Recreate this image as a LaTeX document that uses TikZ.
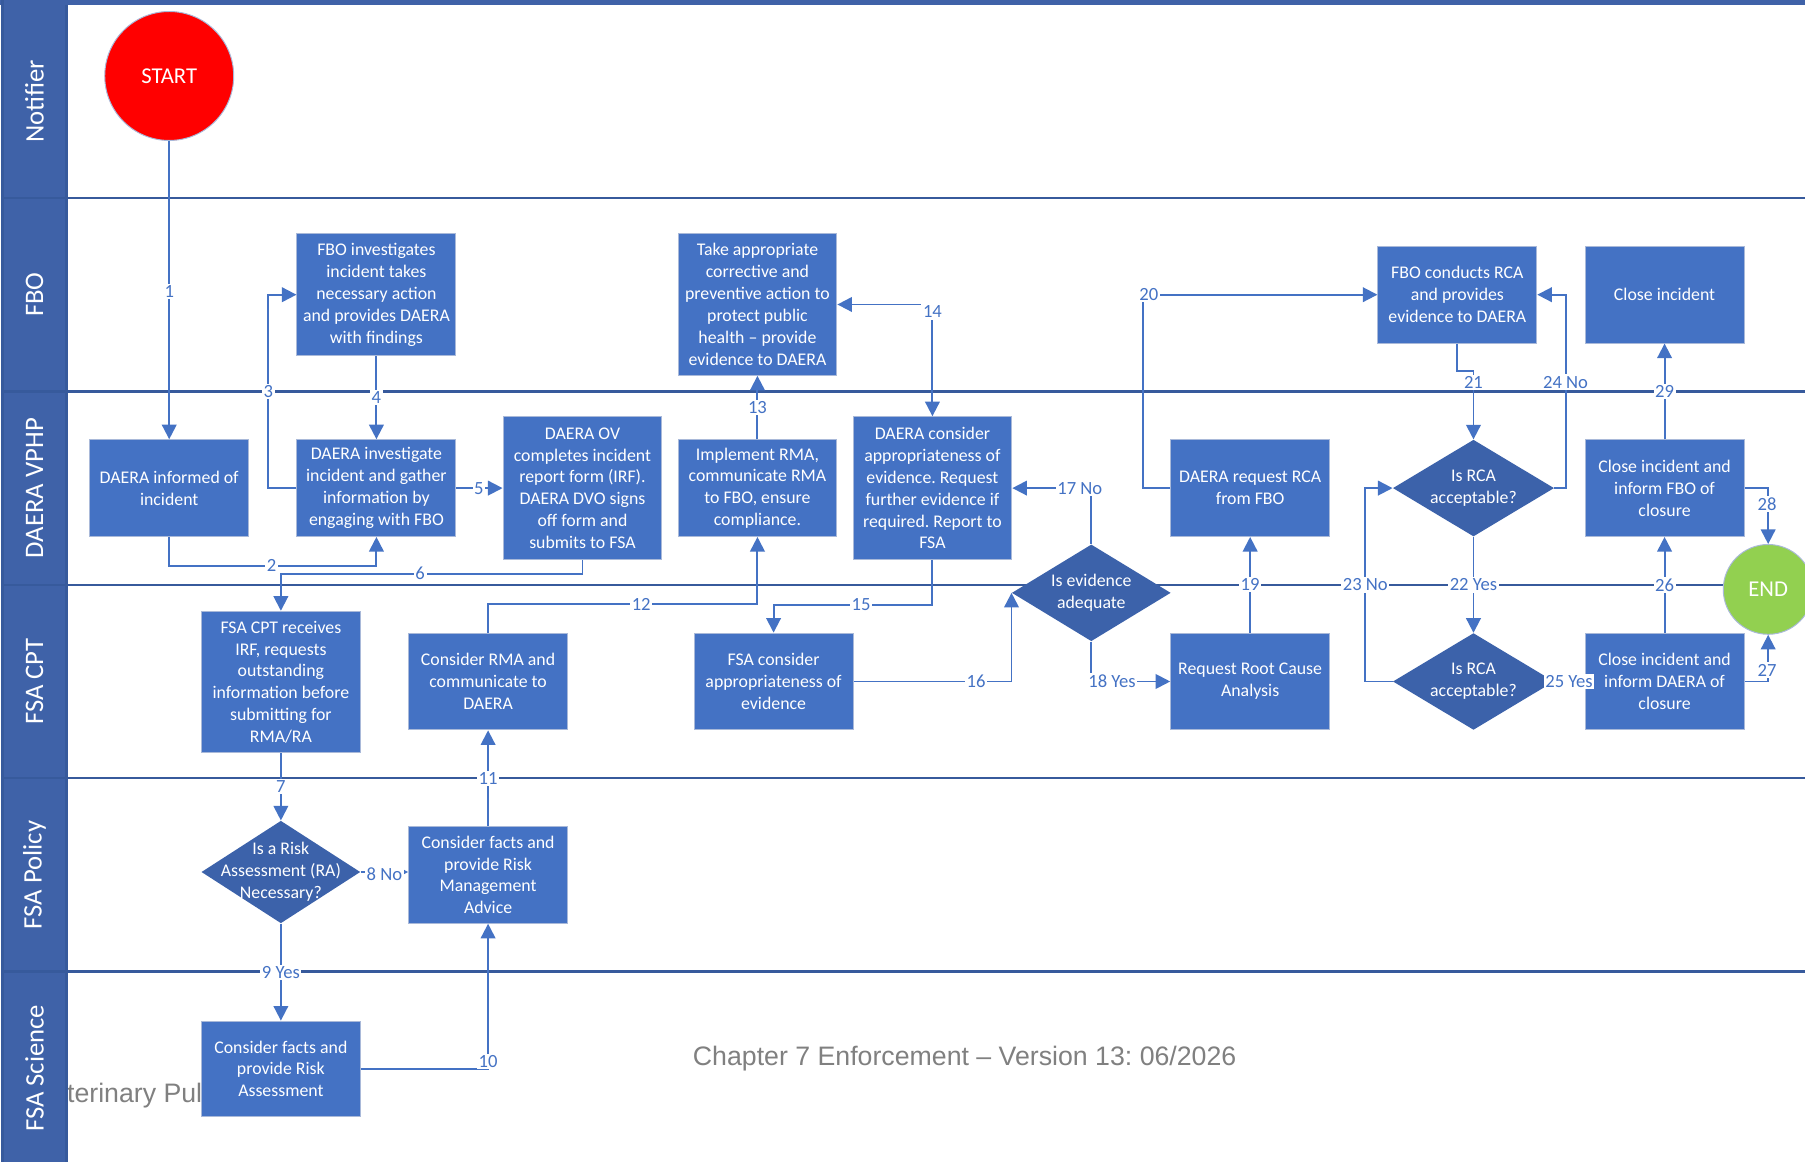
\documentclass[tikz,border=0pt]{standalone}
\usepackage{fontspec}
\setmainfont{Carlito}
\newfontfamily\footf{Liberation Sans}
\usetikzlibrary{arrows.meta,shapes.geometric}
\frenchspacing
\definecolor{boxblue}{HTML}{4472C4}
\definecolor{diablue}{HTML}{3C62AA}
\definecolor{lanecol}{HTML}{3F62A8}
\definecolor{laneline}{HTML}{375A9C}
\definecolor{boxedge}{HTML}{A9B9D9}
\definecolor{footgray}{HTML}{808080}
\definecolor{startred}{HTML}{FF0000}
\definecolor{endgreen}{HTML}{92D050}
\newcommand\boxfnt{\fontsize{11}{13.5}\selectfont}
\tikzset{
  procbox/.style={rectangle, draw=boxedge, line width=0.6pt, fill=boxblue, text=white,
    inner sep=0pt, align=center, font=\boxfnt, minimum width=3.45cm, minimum height=2.1cm},
  decbox/.style={diamond, draw=none, fill=diablue, inner sep=0pt, minimum width=3.5cm, minimum height=2.1cm},
  dectext/.style={text=white, align=center, font=\boxfnt, inner sep=0pt},
  conn/.style={draw=boxblue, line width=1.2pt, -{Triangle[length=9pt,width=9pt]}},
  lab/.style={fill=white, text=boxblue, inner sep=1pt, font=\fontsize{11.5}{13}\selectfont},
  lanelab/.style={rotate=90, text=white, font=\fontsize{16.5}{18}\selectfont, inner sep=0pt},
  laneline/.style={draw=laneline, line width=1.6pt},
}
\begin{document}
\begin{tikzpicture}[x=0.025cm, y=-0.025cm]
\useasboundingbox (0,0) rectangle (1568,1009);
\clip (0,0) rectangle (1568,1009);
\fill[white] (0,0) rectangle (1568,1009);

% footer texts
\node[anchor=west, text=footgray, font=\footf\fontsize{16.5}{18}\selectfont, inner sep=0pt] (vph) at (58,952) {terinary Pul};
\node[text=footgray, font=\footf\fontsize{16.5}{18}\selectfont\frenchspacing, inner sep=0pt] (foot) at (838,920) {Chapter 7 Enforcement – Version 13: 06/2026};

% lanes
\fill[lanecol] (2,0) rectangle (58,1009);
\fill[lanecol] (0,0) rectangle (1568,4);
\foreach \yy in {172,340,508,676,844} { \draw[laneline] (2,\yy) -- (1568,\yy); }
\draw[laneline] (2,0) -- (2,1009);
\draw[laneline] (58,4) -- (58,1009);
\node[lanelab] (ln1) at (30,88) {Notifier};
\node[lanelab] (ln2) at (30,256) {FBO};
\node[lanelab] (ln3) at (30,424) {DAERA VPHP};
\node[lanelab] (ln4) at (30,592) {FSA CPT};
\node[lanelab] (ln5) at (30,760) {FSA Policy};
\node[lanelab] (ln6) at (30,928) {FSA Science};

% nodes
\node[circle, draw=boxedge, line width=0.6pt, fill=startred, text=white, minimum size=2.8cm, inner sep=0pt, font=\fontsize{14}{16}\selectfont] (start) at (147,66) {START};
\node[circle, draw=boxedge, line width=0.6pt, fill=endgreen, text=white, minimum size=1.95cm, inner sep=0pt, font=\fontsize{14}{16}\selectfont] (endn) at (1536,512) {END};

\node[procbox, minimum height=2.65cm] (fbo1) at (327,256) {FBO investigates\\incident takes\\necessary action\\and provides DAERA\\with findings};
\node[procbox, minimum height=3.075cm] (take) at (658,264.5) {Take appropriate\\corrective and\\preventive action to\\protect public\\health – provide\\evidence to DAERA};
\node[procbox] (fborca) at (1266,256) {FBO conducts RCA\\and provides\\evidence to DAERA};
\node[procbox] (cli) at (1446,256) {Close incident};

\node[procbox] (inf) at (147,424) {DAERA informed of\\incident};
\node[procbox] (inv) at (327,424) {DAERA investigate\\incident and gather\\information by\\engaging with FBO};
\node[procbox, minimum height=3.1cm] (ov) at (506,424) {DAERA OV\\completes incident\\report form (IRF).\\DAERA DVO signs\\off form and\\submits to FSA};
\node[procbox] (impl) at (658,424) {Implement RMA,\\communicate RMA\\to FBO, ensure\\compliance.};
\node[procbox, minimum height=3.1cm] (dcons) at (810,424) {DAERA consider\\appropriateness of\\evidence. Request\\further evidence if\\required. Report to\\FSA};
\node[procbox] (dreq) at (1086,424) {DAERA request RCA\\from FBO};
\node[decbox] (rca1) at (1280,424) {};
\node[dectext] (rca1t) at (rca1) {Is RCA\\acceptable?};
\node[procbox] (clf) at (1446,424) {Close incident and\\inform FBO of\\closure};

\node[decbox, minimum width=3.45cm] (ev) at (948,515) {};
\node[dectext] (evt) at (ev) {Is evidence\\adequate};
\node[procbox, minimum height=3.075cm] (cpt) at (244,592.5) {FSA CPT receives\\IRF, requests\\outstanding\\information before\\submitting for\\RMA/RA};
\node[procbox] (crma) at (424,592) {Consider RMA and\\communicate to\\DAERA};
\node[procbox] (fcons) at (672,592) {FSA consider\\appropriateness of\\evidence};
\node[procbox] (rrca) at (1086,592) {Request Root Cause\\Analysis};
\node[decbox] (rca2) at (1280,592) {};
\node[dectext] (rca2t) at (rca2) {Is RCA\\acceptable?};
\node[procbox] (cld) at (1446,592) {Close incident and\\inform DAERA of\\closure};

\node[decbox, minimum width=3.45cm, minimum height=2.225cm] (ra) at (244,757.5) {};
\node[dectext] (rat) at (ra) {Is a Risk\\Assessment (RA)\\Necessary?};
\node[procbox] (rmaadv) at (424,760) {Consider facts and\\provide Risk\\Management\\Advice};
\node[procbox, minimum height=2.075cm] (rasci) at (244,928.5) {Consider facts and\\provide Risk\\Assessment};

% connectors
\draw[conn] (start.south) -- (inf.north);
\draw[conn] (inf.south) -- ++(0,25) -| (inv.south);
\draw[conn] (inv.west) -- ++(-25,0) |- (fbo1.west);
\draw[conn] (fbo1.south) -- (inv.north);
\draw[conn] (inv.east) -- (ov.west);
\draw[conn] (ov.south) -- ++(0,12) -| (cpt.north);
\draw[conn] (cpt.south) -- (ra.north);
\draw[conn, -{Triangle[length=5pt,width=5pt]}] (ra.east) -- (ra.east -| rmaadv.west);
\draw[conn] (ra.south) -- (rasci.north);
\draw[conn] (rasci.east) -| (rmaadv.south);
\draw[conn] (rmaadv.north) -- (crma.south);
\draw[conn] (crma.north) -- ++(0,-25) -| (impl.south);
\draw[conn] (impl.north) -- (take.south);
\draw[conn, {Triangle[length=9pt,width=9pt]}-{Triangle[length=9pt,width=9pt]}] (take.east) -| (dcons.north);
\draw[conn] (dcons.south) -- ++(0,39) -| (fcons.north);
\draw[conn] (fcons.east) -| (ev.west);
\draw[conn] (ev.north) |- (dcons.east);
\draw[conn] (ev.south) |- (rrca.west);
\draw[conn] (rrca.north) -- (dreq.south);
\draw[conn] (dreq.west) -- ++(-24,0) |- (fborca.west);
\draw[conn] (fborca.south) -- ++(0,24) -| (rca1.north);
\draw[conn] (rca1.south) -- (rca2.north);
\draw[conn] (rca2.west) -- ++(-24,0) |- (rca1.west);
\draw[conn] (rca1.east) -- ++(10,0) |- (fborca.east);
\draw[conn] (rca2.east) -- (cld.west);
\draw[conn] (cld.north) -- (clf.south);
\draw[conn] (cld.east) -| (endn.south);
\draw[conn] (clf.east) -| (endn.north);
\draw[conn] (clf.north) -- (cli.south);

% connector labels
\node[lab] (l1) at (147,253) {1};
\node[lab] (l2) at (236,491) {2};
\node[lab] (l3) at (233,340) {3};
\node[lab] (l4) at (327,345) {4};
\node[lab] (l5) at (416,424) {5};
\node[lab] (l6) at (365,498) {6};
\node[lab] (l7) at (244,683) {7};
\node[lab] (l8) at (334,759) {8 No};
\node[lab] (l9) at (244,845) {9 Yes};
\node[lab] (l10) at (424,922) {10};
\node[lab] (l11) at (424,676) {11};
\node[lab] (l12) at (557,525) {12};
\node[lab] (l13) at (658,354) {13};
\node[lab] (l14) at (810,271) {14};
\node[lab] (l15) at (748,525) {15};
\node[lab] (l16) at (848,592) {16};
\node[lab] (l17) at (938,424) {17 No};
\node[lab] (l18) at (966,592) {18 Yes};
\node[lab] (l19) at (1086,508) {19};
\node[lab] (l20) at (998,256) {20};
\node[lab] (l21) at (1280,332) {21};
\node[lab] (l22) at (1280,508) {22 Yes};
\node[lab] (l23) at (1186,508) {23 No};
\node[lab] (l24) at (1360,332) {24 No};
\node[lab] (l25) at (1363,592) {25 Yes};
\node[lab] (l26) at (1446,508) {26};
\node[lab] (l27) at (1535,582) {27};
\node[lab] (l28) at (1535,438) {28};
\node[lab] (l29) at (1446,340) {29};
\end{tikzpicture}
\end{document}
